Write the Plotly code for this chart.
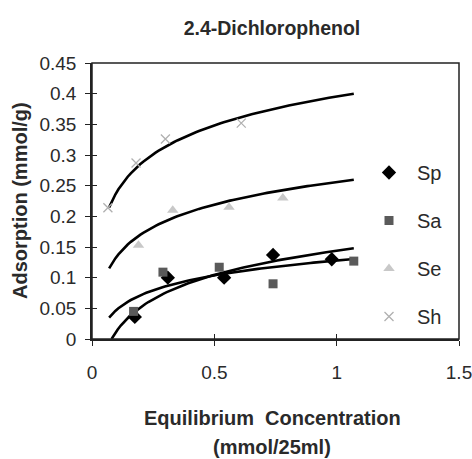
import numpy as np
import plotly.graph_objects as go

# Data
sp_x = [0.175, 0.31, 0.54, 0.74, 0.98]
sp_y = [0.036, 0.100, 0.100, 0.137, 0.130]
sa_x = [0.17, 0.29, 0.52, 0.74, 1.07]
sa_y = [0.045, 0.109, 0.117, 0.090, 0.127]
se_x = [0.19, 0.33, 0.56, 0.78]
se_y = [0.153, 0.210, 0.215, 0.230]
sh_x = [0.065, 0.18, 0.30, 0.61]
sh_y = [0.214, 0.287, 0.326, 0.352]

# Logarithmic trendlines y = a*ln(x) + b (coefficients)
trend_names = ["Sp", "Sa", "Se", "Sh"]
trend_a = [0.057, 0.035, 0.053, 0.068]
trend_b = [0.144, 0.128, 0.256, 0.3954]
trend_x0 = [0.08, 0.07, 0.07, 0.07]
trend_x1 = [1.07, 1.07, 1.07, 1.07]

x_ticks = [0, 0.5, 1, 1.5]
x_tick_labels = ["0", "0.5", "1", "1.5"]
y_ticks = [0, 0.05, 0.1, 0.15, 0.2, 0.25, 0.3, 0.35, 0.4, 0.45]
y_tick_labels = ["0", "0.05", "0.1", "0.15", "0.2", "0.25", "0.3", "0.35", "0.4", "0.45"]

W, H = 472, 459
ML, MR, MT, MB = 92, 13, 63, 120
PW, PH = W - ML - MR, H - MT - MB

def px_x(px):
    return (px - ML) / PW

def px_y(py):
    return (H - MB - py) / PH

fig = go.Figure()

for a, b, x0, x1 in zip(trend_a, trend_b, trend_x0, trend_x1):
    xs = np.linspace(x0, x1, 80)
    fig.add_trace(go.Scatter(x=xs, y=a * np.log(xs) + b, mode="lines",
                             line=dict(color="black", width=2.6),
                             showlegend=False, hoverinfo="skip"))

series = [
    ("Sp", sp_x, sp_y, dict(symbol="diamond", size=11, color="black")),
    ("Sa", sa_x, sa_y, dict(symbol="square", size=9, color="#5a5a5a")),
    ("Se", se_x, se_y, dict(symbol="triangle-up", size=10, color="#c8c8c8")),
    ("Sh", sh_x, sh_y, dict(symbol="x-thin-open", size=9, color="#b0b0b0",
                            line=dict(width=1.3, color="#b0b0b0"))),
]
for name, xs, ys, mk in series:
    fig.add_trace(go.Scatter(x=xs, y=ys, mode="markers", name=name,
                             marker=mk, legendgroup=name))

# invisible helper trace on overlay axes so that ticks cross the axis lines
fig.add_trace(go.Scatter(x=[None], y=[None], xaxis="x2", yaxis="y2",
                         showlegend=False, hoverinfo="skip"))

axis_common = dict(showgrid=False, zeroline=False, tickcolor="#222")
tick_font = dict(size=19)
fig.update_layout(
    width=W, height=H,
    margin=dict(l=ML, r=MR, t=MT, b=MB, autoexpand=False),
    paper_bgcolor="white", plot_bgcolor="white",
    font=dict(family="Arial, Liberation Sans", color="#2a2a2a", size=20),
    title=dict(text="<b>2.4-Dichlorophenol</b>", x=272 / W, xanchor="center",
               y=1 - 28.5 / H, yanchor="middle", font=dict(size=19.5)),
    legend=dict(x=px_x(361), y=px_y(153), xanchor="left", yanchor="top",
                bgcolor="rgba(0,0,0,0)", font=dict(size=20),
                tracegroupgap=19, itemwidth=46),
    xaxis=dict(range=[0, 1.5], tickvals=x_ticks, ticktext=x_tick_labels,
               showline=True, linecolor="#222", linewidth=1.5, mirror=False,
               ticks="outside", ticklen=5, ticklabelstandoff=10,
               ticklabeloverflow="allow", tickfont=tick_font,
               automargin=False, **axis_common),
    yaxis=dict(range=[0, 0.45], tickvals=y_ticks, ticktext=y_tick_labels,
               showline=True, linecolor="#222", linewidth=1.5, mirror=False,
               ticks="outside", ticklen=5, ticklabelstandoff=5,
               ticklabeloverflow="allow", tickfont=tick_font,
               automargin=False, **axis_common),
    xaxis2=dict(range=[0, 1.5], tickvals=x_ticks, overlaying="x",
                ticks="inside", ticklen=5, showticklabels=False,
                showline=False, **axis_common),
    yaxis2=dict(range=[0, 0.45], tickvals=y_ticks, overlaying="y",
                ticks="inside", ticklen=5, showticklabels=False,
                showline=False, **axis_common),
    shapes=[dict(type="rect", xref="paper", yref="paper", x0=0, x1=1, y0=0, y1=1,
                 line=dict(color="#222", width=1.5), layer="above")],
    annotations=[
        dict(text="<b>Equilibrium  Concentration</b>", x=px_x(272), y=px_y(418),
             xanchor="center", yanchor="middle",
             xref="paper", yref="paper", showarrow=False, font=dict(size=20)),
        dict(text="<b>(mmol/25ml)</b>", x=px_x(272), y=px_y(447),
             xanchor="center", yanchor="middle",
             xref="paper", yref="paper", showarrow=False, font=dict(size=20)),
        dict(text="<b>Adsorption (mmol/g)</b>", x=px_x(20), y=px_y(201),
             xanchor="center", yanchor="middle",
             textangle=-90, xref="paper", yref="paper", showarrow=False,
             font=dict(size=20)),
    ],
)

fig.write_html("out.html", config={"displayModeBar": False},
               post_script="document.body.style.margin='0';")
